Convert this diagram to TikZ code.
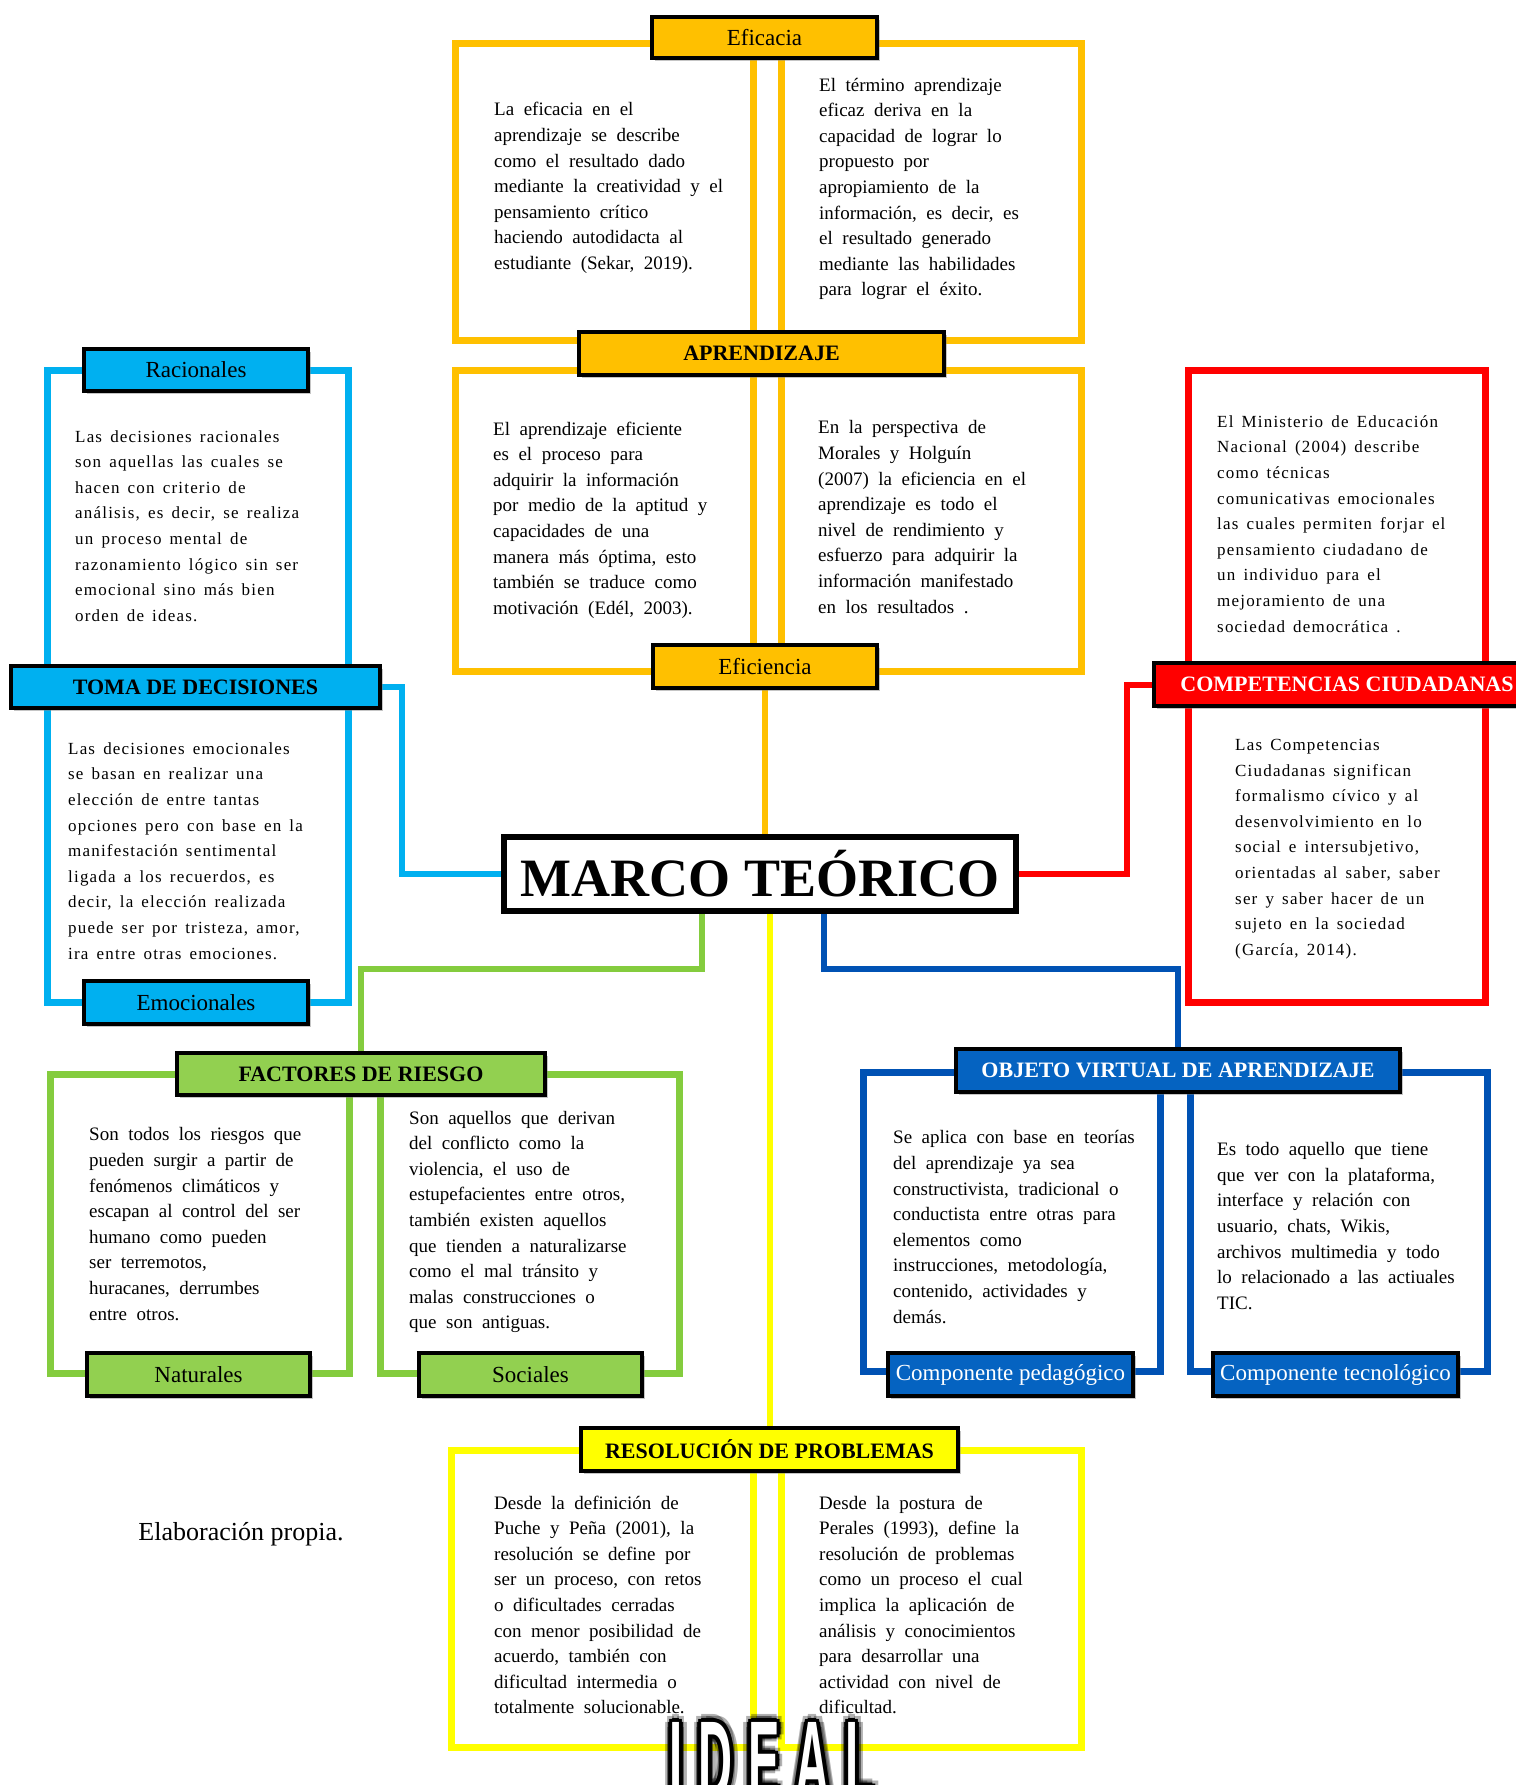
\documentclass[tikz,border=0pt]{standalone}
\usepackage{fontspec}
\setmainfont{Liberation Serif}
\newfontfamily\bodyserif[WordSpace=2.0]{Liberation Serif}
\newfontfamily\spacedserif[LetterSpace=7,WordSpace=1.5]{Liberation Serif}
\newfontfamily\stampsans{Liberation Sans}
\usetikzlibrary{shadows,calc}
\pgfdeclarelayer{paper}
\pgfdeclarelayer{wires}
\pgfsetlayers{paper,wires,main}

\definecolor{cOrange}{HTML}{FFC000}
\definecolor{cSky}{HTML}{00B0F0}
\definecolor{cRed}{HTML}{FF0000}
\definecolor{cGreen}{HTML}{92D050}
\definecolor{cGreenLine}{HTML}{84CC3E}
\definecolor{cNavy}{HTML}{0563C1}
\definecolor{cNavyLine}{HTML}{0052B4}
\definecolor{cYellow}{HTML}{FFFF00}
\definecolor{cShade}{HTML}{4A5A7A}

\tikzset{
  frm/.style={draw=#1, line width=7pt, fill=white,
    drop shadow={shadow xshift=3pt, shadow yshift=-3pt, opacity=0.25, fill=cShade}},
  lab/.style={draw=black, line width=4pt, fill=#1, inner sep=0pt,
    drop shadow={shadow xshift=3pt, shadow yshift=-3pt, opacity=0.45}},
  body/.style={anchor=west, align=left, inner sep=0pt,
    font=\bodyserif\fontsize{19}{25.6}\selectfont},
  wide/.style={anchor=west, align=left, inner sep=0pt,
    font=\spacedserif\fontsize{17}{25.6}\selectfont},
  wire/.style={draw=#1, line width=6pt},
  ttl/.style={font=\fontsize{23}{26}\selectfont},
  ttlb/.style={font=\bfseries\fontsize{22}{26}\selectfont},
  stampfont/.style={anchor=north, inner sep=0pt,
    font=\stampsans\bfseries\fontsize{112}{112}\selectfont},
}

% box given by its corners: style, name, x1, y1, x2, y2, text
\newcommand\cornerbox[7]{%
  \node[#1, minimum width={#5-#3}, minimum height={#6-#4}]
    (#2) at ({(#3+#5)/2},{(#4+#6)/2}) {#7};}
\newcommand\stampword{\scalebox{0.42}[1]{I\hspace{38pt}D\hspace{38pt}E\hspace{38pt}A\hspace{38pt}L}}

\begin{document}
\begin{tikzpicture}[x=1pt, y=-1pt]
\useasboundingbox (0,0) rectangle (1515,1785);
\begin{pgfonlayer}{paper}
  \fill[white] (0,0) rectangle (1515,1785);
\end{pgfonlayer}

% ---------- frames ----------
\cornerbox{frm=cOrange}{fEfL}{455}{44}{753}{340}{}
\cornerbox{frm=cOrange}{fEfR}{781}{44}{1081}{340}{}
\cornerbox{frm=cOrange}{fApL}{455}{370}{753}{671}{}
\cornerbox{frm=cOrange}{fApR}{781}{370}{1081}{671}{}
\cornerbox{frm=cSky}{fToma}{47}{370}{348}{1002}{}
\cornerbox{frm=cRed}{fComp}{1188}{370}{1485}{1002}{}
\cornerbox{frm=cGreenLine}{fNat}{50}{1074}{349}{1373}{}
\cornerbox{frm=cGreenLine}{fSoc}{380}{1074}{679}{1373}{}
\cornerbox{frm=cNavyLine}{fPed}{863}{1072}{1160}{1371}{}
\cornerbox{frm=cNavyLine}{fTec}{1190}{1072}{1487}{1371}{}
\cornerbox{frm=cYellow}{fResL}{451}{1450}{753}{1747}{}
\cornerbox{frm=cYellow}{fResR}{781}{1450}{1081}{1747}{}

% ---------- labels ----------
\cornerbox{lab=cOrange, ttl}{eficacia}{652}{17}{877}{58}{Eficacia}
\cornerbox{lab=cOrange, ttlb}{aprendizaje}{579}{332}{944}{375}{APRENDIZAJE}
\cornerbox{lab=cOrange, ttl}{eficiencia}{653}{645}{877}{688}{Eficiencia}
\cornerbox{lab=cSky, ttl}{racionales}{84}{349}{308}{391}{Racionales}
\cornerbox{lab=cSky, ttlb}{toma}{11}{666}{380}{708}{TOMA DE DECISIONES}
\cornerbox{lab=cSky, ttl}{emocionales}{84}{981}{308}{1024}{Emocionales}
\cornerbox{lab=cRed, ttlb, text=white}{comp}{1154}{663}{1540}{706}{COMPETENCIAS CIUDADANAS}
\cornerbox{lab=cGreen, ttlb}{factores}{177}{1053}{545}{1095}{FACTORES DE RIESGO}
\cornerbox{lab=cGreen, ttl}{naturales}{87}{1353}{310}{1396}{Naturales}
\cornerbox{lab=cGreen, ttl}{sociales}{419}{1353}{642}{1396}{Sociales}
\cornerbox{lab=cNavy, ttlb, text=white}{ova}{956}{1049}{1400}{1092}{OBJETO VIRTUAL DE APRENDIZAJE}
\cornerbox{lab=cNavy, ttl, text=white}{pedagogico}{888}{1353}{1133}{1396}{Componente pedagógico}
\cornerbox{lab=cNavy, ttl, text=white}{tecnologico}{1213}{1353}{1458}{1396}{Componente tecnológico}
\cornerbox{lab=cYellow, ttlb}{resol}{581}{1428}{958}{1471}{RESOLUCIÓN DE PROBLEMAS}

% ---------- central node ----------
\cornerbox{lab=white, line width=6pt, font=\bfseries\fontsize{54}{60}\selectfont}{marco}{504}{837}{1016}{911}{MARCO TEÓRICO}

% ---------- texts ----------
\node[body] (tEfL) at (494,188) {La eficacia en el\\aprendizaje se describe\\como el resultado dado\\mediante la creatividad y el\\pensamiento crítico\\haciendo autodidacta al\\estudiante (Sekar, 2019).};
\node[body] (tEfR) at (819,189) {El término aprendizaje\\eficaz deriva en la\\capacidad de lograr lo\\propuesto por\\apropiamiento de la\\información, es decir, es\\el resultado generado\\mediante las habilidades\\para lograr el éxito.};
\node[body] (tApL) at (493,520) {El aprendizaje eficiente\\es el proceso para\\adquirir la información\\por medio de la aptitud y\\capacidades de una\\manera más óptima, esto\\también se traduce como\\motivación (Edél, 2003).};
\node[body] (tApR) at (818,517) {En la perspectiva de\\Morales y Holguín\\(2007) la eficiencia en el\\aprendizaje es todo el\\nivel de rendimiento y\\esfuerzo para adquirir la\\información manifestado\\en los resultados .};
\node[wide] (tRac) at (75,526) {Las decisiones racionales\\son aquellas las cuales se\\hacen con criterio de\\análisis, es decir, se realiza\\un proceso mental de\\razonamiento lógico sin ser\\emocional sino más bien\\orden de ideas.};
\node[wide] (tEmo) at (68,851) {Las decisiones emocionales\\se basan en realizar una\\elección de entre tantas\\opciones pero con base en la\\manifestación sentimental\\ligada a los recuerdos, es\\decir, la elección realizada\\puede ser por tristeza, amor,\\ira entre otras emociones.};
\node[wide] (tCompA) at (1217,524) {El Ministerio de Educación\\Nacional (2004) describe\\como técnicas\\comunicativas emocionales\\las cuales permiten forjar el\\pensamiento ciudadano de\\un individuo para el\\mejoramiento de una\\sociedad democrática .};
\node[wide] (tCompB) at (1235,849) {Las Competencias\\Ciudadanas significan\\formalismo cívico y al\\desenvolvimiento en lo\\social e intersubjetivo,\\orientadas al saber, saber\\ser y saber hacer de un\\sujeto en la sociedad\\(García, 2014).};
\node[body] (tNat) at (89,1224) {Son todos los riesgos que\\pueden surgir a partir de\\fenómenos climáticos y\\escapan al control del ser\\humano como pueden\\ser terremotos,\\huracanes, derrumbes\\entre otros.};
\node[body] (tSoc) at (409,1222) {Son aquellos que derivan\\del conflicto como la\\violencia, el uso de\\estupefacientes entre otros,\\también existen aquellos\\que tienden a naturalizarse\\como el mal tránsito y\\malas construcciones o\\que son antiguas.};
\node[body] (tPed) at (893,1227) {Se aplica con base en teorías\\del aprendizaje ya sea\\constructivista, tradicional o\\conductista entre otras para\\elementos como\\instrucciones, metodología,\\contenido, actividades y\\demás.};
\node[body] (tTec) at (1217,1226) {Es todo aquello que tiene\\que ver con la plataforma,\\interface y relación con\\usuario, chats, Wikis,\\archivos multimedia y todo\\lo relacionado a las actiuales\\TIC.};
\node[body] (tResL) at (494,1605) {Desde la definición de\\Puche y Peña (2001), la\\resolución se define por\\ser un proceso, con retos\\o dificultades cerradas\\con menor posibilidad de\\acuerdo, también con\\dificultad intermedia o\\totalmente solucionable.};
\node[body] (tResR) at (819,1605) {Desde la postura de\\Perales (1993), define la\\resolución de problemas\\como un proceso el cual\\implica la aplicación de\\análisis y conocimientos\\para desarrollar una\\actividad con nivel de\\dificultad.};

\node[font=\fontsize{26}{30}\selectfont, inner sep=0pt] (source) at (241,1534) {Elaboración propia.};

% ---------- connectors ----------
\coordinate (skyBend) at (402,780);
\coordinate (redBend) at (1127,780);
\coordinate (greenMid) at (702,969);
\coordinate (navyMid) at (824,969);
\begin{pgfonlayer}{wires}
  \draw[wire=cOrange] (eficiencia.south) -- (eficiencia.south |- marco.north);
  \draw[wire=cSky] (toma.east) -| (skyBend) |- (marco.west);
  \draw[wire=cRed] (marco.east) -| (redBend) |- (comp.west);
  \draw[wire=cGreenLine] (marco.south -| greenMid) -- (greenMid) -| (factores.north);
  \draw[wire=cNavyLine] (marco.south -| navyMid) -- (navyMid) -| (ova.north);
  \draw[wire=cYellow] (resol.north |- marco.south) -- (resol.north);
\end{pgfonlayer}

% ---------- stamp lettering: dark halo, black rim, white letters ----------
\foreach \a in {0,45,...,315} {
  \node[stampfont, text=black, opacity=0.3] (halo\a) at ($(772,1722)+(\a:7.5)$) {\stampword};
  \node[stampfont, text=black] (rim\a) at ($(772,1722)+(\a:4)$) {\stampword};
}
\node[stampfont, text=white] (stamp) at (772,1722) {\stampword};
\end{tikzpicture}
\end{document}
